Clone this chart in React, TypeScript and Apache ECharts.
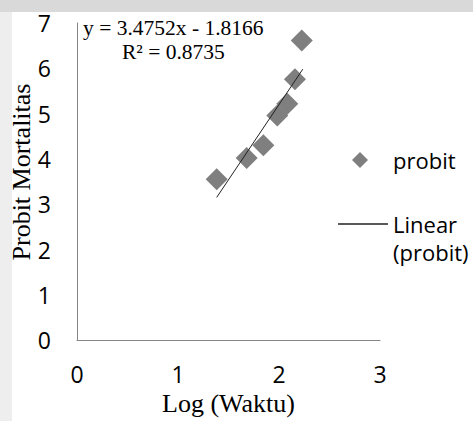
import React, { useEffect, useRef } from "react";
import * as echarts from "echarts";

const logWaktu = [1.383, 1.68, 1.845, 1.983, 2.082, 2.158, 2.225];
const probit = [3.55, 4.02, 4.3, 4.96, 5.22, 5.76, 6.615];
const trendX = [1.383, 2.235];
const trendY = [3.15, 5.98];
const xTicks = { min: 0, max: 3, interval: 1 };
const yTicks = { min: 0, max: 7, interval: 1 };
const equationText = "y = 3.4752x - 1.8166";
const r2Text = "R² = 0.8735";

export default function App() {
  const ref = useRef<HTMLDivElement>(null);
  useEffect(() => {
    if (!ref.current) return;
    const chart = echarts.init(ref.current, null, { renderer: "svg" });
    const sans = "Open Sans";
    const serif = "Liberation Serif";
    chart.setOption({
      animation: false,
      backgroundColor: "#ffffff",
      grid: { left: 77, top: 23, width: 303, height: 322, containLabel: false },
      xAxis: {
        type: "value",
        ...xTicks,
        name: "Log (Waktu)",
        nameLocation: "middle",
        nameGap: 49,
        nameTextStyle: { fontFamily: serif, fontSize: 26, color: "#000" },
        axisLine: { show: true, lineStyle: { color: "#868686", width: 1 } },
        axisTick: { show: false },
        splitLine: { show: false },
        axisLabel: { fontFamily: sans, fontSize: 23, color: "#000", margin: 22 },
      },
      yAxis: {
        type: "value",
        ...yTicks,
        axisLine: { show: true, lineStyle: { color: "#868686", width: 1 } },
        axisTick: { show: false },
        splitLine: { show: false },
        axisLabel: { fontFamily: sans, fontSize: 23, color: "#000", margin: 26 },
      },
      legend: [
        {
          data: [{ name: "probit", icon: "diamond" }],
          left: 347,
          top: 140,
          itemWidth: 16,
          itemHeight: 16,
          selectedMode: false,
          textStyle: { fontFamily: sans, fontSize: 22, lineHeight: 30, color: "#000", padding: [0, 0, 0, 20] },
        },
        {
          data: [{ name: "Linear (probit)", icon: "rect" }],
          left: 333,
          top: 177,
          itemWidth: 50,
          itemHeight: 1.5,
          selectedMode: false,
          formatter: () => " \nLinear\n(probit)",
          textStyle: { fontFamily: sans, fontSize: 22, lineHeight: 28, color: "#000" },
        },
      ],
      graphic: [
        { type: "rect", z: -10, shape: { x: 0, y: 0, width: 473, height: 12 }, style: { fill: "#d9d9d9" } },
        { type: "rect", z: -10, shape: { x: 0, y: 12, width: 12, height: 409 }, style: { fill: "#eeeeee" } },
        {
          type: "text",
          x: 21,
          y: 172,
          rotation: Math.PI / 2,
          style: { text: "Probit Mortalitas", font: `26px "${serif}"`, fill: "#000", align: "center", verticalAlign: "middle" },
        },
        {
          type: "text",
          x: 83,
          y: 28,
          style: { text: equationText, font: `21.5px "${serif}"`, fill: "#000", align: "left", verticalAlign: "middle" },
        },
        {
          type: "text",
          x: 122,
          y: 52,
          style: { text: r2Text, font: `21.5px "${serif}"`, fill: "#000", align: "left", verticalAlign: "middle" },
        },
      ],
      series: [
        {
          name: "probit",
          type: "scatter",
          symbol: "diamond",
          symbolSize: 22,
          itemStyle: { color: "#5f5f5f" },
          data: logWaktu.map((x, i) => [x, probit[i]]),
          z: 2,
        },
        {
          name: "Linear (probit)",
          type: "line",
          symbol: "none",
          itemStyle: { color: "#222222" },
          lineStyle: { color: "#222222", width: 1 },
          data: trendX.map((x, i) => [x, trendY[i]]),
          z: 3,
        },
      ],
    });
    return () => chart.dispose();
  }, []);
  return <div ref={ref} style={{ width: 473, height: 421, position: "absolute", left: 0, top: 0 }} />;
}
